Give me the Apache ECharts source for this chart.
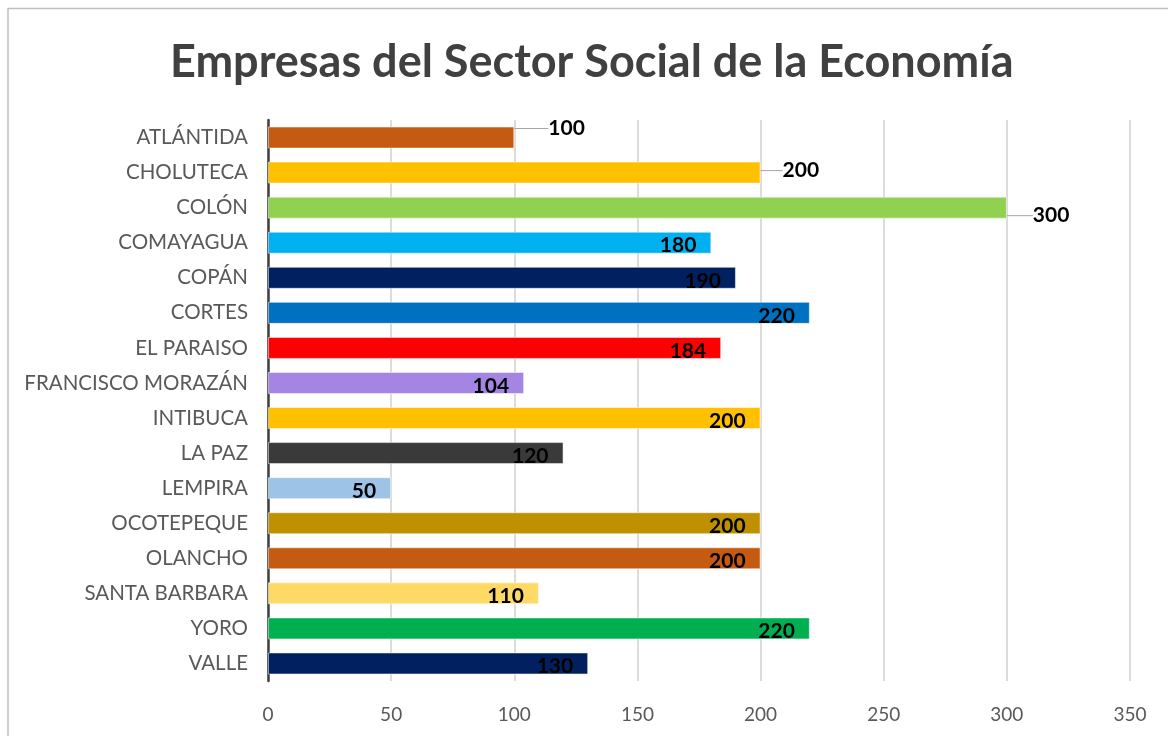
<!DOCTYPE html>
<html>
<head>
<meta charset="utf-8">
<script src="https://cdn.jsdelivr.net/npm/echarts@6/dist/echarts.min.js"></script>
<style>
html,body{margin:0;padding:0;background:#fff;}
#chart{width:1168px;height:736px;}
</style>
</head>
<body>
<div id="chart"></div>
<script>
const categories = ["ATLÁNTIDA","CHOLUTECA","COLÓN","COMAYAGUA","COPÁN","CORTES","EL PARAISO","FRANCISCO MORAZÁN","INTIBUCA","LA PAZ","LEMPIRA","OCOTEPEQUE","OLANCHO","SANTA BARBARA","YORO","VALLE"];
const values = [100,200,300,180,190,220,184,104,200,120,50,200,200,110,220,130];
const colors = ["#C55A11","#FFC000","#92D050","#00B0F0","#002060","#0070C0","#FF0000","#A585E3","#FFC000","#3A3A3A","#9DC3E6","#BF9000","#C55A11","#FFD966","#00B050","#002060"];
const outsideIdx = [0,1,2];
const outsideOffsets = {0:[34,-9],1:[22,-2],2:[26,8]};

const chart = echarts.init(document.getElementById('chart'));
const font = 'Lato, "Open Sans", sans-serif';
chart.setOption({
  animation:false,
  graphic:[{type:'rect',shape:{x:8,y:8.5,width:1300,height:900},style:{fill:'none',stroke:'#bfbfbf',lineWidth:1.5},silent:true}],
  title:{text:'Empresas del Sector Social de la Economía',left:165,top:35,
    textStyle:{fontFamily:font,fontSize:45,fontWeight:'bold',color:'#404040'}},
  grid:{left:268,right:38,top:120,bottom:55,containLabel:false},
  xAxis:{type:'value',min:0,max:350,interval:50,
    axisLine:{show:false},axisTick:{show:false},
    axisLabel:{fontFamily:font,fontSize:19,color:'#595959',margin:24},
    splitLine:{show:true,lineStyle:{color:'#d0d0d0',width:1.5}}},
  yAxis:{type:'category',data:categories,inverse:true,
    axisLine:{show:true,lineStyle:{color:'#404040',width:2.5}},
    axisTick:{show:false},
    axisLabel:{fontFamily:font,fontSize:20.5,color:'#595959',margin:20}},
  series:[{type:'bar',barWidth:22,
    data:values.map((v,i)=>{
      const d={value:v,itemStyle:{color:colors[i],borderColor:'rgba(255,255,255,0.5)',borderWidth:1}};
      if(outsideIdx.includes(i)){
        d.label={position:'right',distance:0};
      }
      return d;
    }),
    label:{show:true,position:'insideRight',distance:15,
      fontFamily:font,fontSize:21,fontWeight:'bold',color:'#000'},
    labelLine:{show:true,lineStyle:{color:'#a6a6a6',width:1}},
    labelLayout:function(p){
      const o=outsideOffsets[p.dataIndex];
      if(o) return {dx:o[0],dy:o[1]};
      return {dy:3};
    }
  }]
});
</script>
</body>
</html>
